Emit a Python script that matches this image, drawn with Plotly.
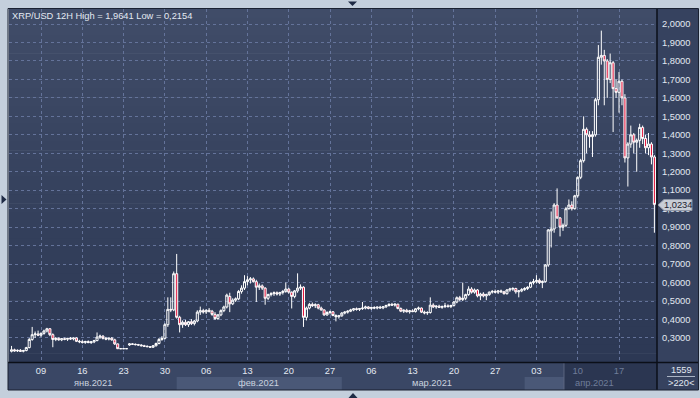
import pandas as pd
import plotly.graph_objects as go

# ---------------- data (12H bars) ----------------
bar_start = "2021-01-04 00:00"
bar_count = 219

open_ = [
    .228, .236, .230, .233, .228, .232, .248, .292, .318, .322,
    .315, .325, .338, .350, .318, .292, .298, .290, .296, .293,
    .298, .295, .300, .282, .280, .276, .281, .275, .279, .286,
    .305, .310, .298, .294, .299, .290, .268, .242, .242, .242,
    .262, .268, .266, .264, .262, .258, .255, .253, .250, .258,
    .270, .292, .298, .372, .455, .452, .648, .412, .372, .385,
    .372, .388, .378, .392, .440, .448, .441, .450, .445, .428,
    .405, .425, .448, .468, .525, .485, .505, .512, .552, .570,
    .605, .615, .620, .605, .575, .582, .570, .515, .535, .540,
    .545, .538, .546, .552, .565, .548, .525, .555, .570, .575,
    .412, .462, .482, .475, .480, .462, .452, .425, .438, .442,
    .422, .415, .420, .435, .440, .445, .452, .458, .455, .459,
    .462, .468, .460, .465, .462, .467, .463, .469, .476, .482,
    .478, .483, .460, .445, .450, .442, .447, .443, .458, .462,
    .440, .436, .438, .478, .468, .472, .466, .470, .474, .470,
    .476, .495, .518, .508, .515, .535, .565, .548, .560, .528,
    .538, .528, .535, .548, .552, .548, .555, .550, .540, .560,
    .565, .568, .550, .555, .562, .568, .575, .600, .605, .612,
    .600, .605, .695, .880, .890, 1.020, .950, .900, .910, 1.000,
    1.020, 1.000, 1.070, 1.170, 1.260, 1.430, 1.400, 1.390, 1.400, 1.590,
    1.820, 1.830, 1.800, 1.700, 1.790, 1.650, 1.630, 1.690, 1.600, 1.275,
    1.350, 1.400, 1.360, 1.370, 1.440, 1.380, 1.330, 1.350, 1.280,
]
high = [
    .257, .242, .238, .240, .236, .252, .300, .360, .335, .340,
    .330, .345, .355, .353, .325, .305, .303, .300, .302, .300,
    .305, .302, .304, .290, .288, .285, .287, .284, .290, .330,
    .318, .315, .306, .302, .305, .296, .270, .242, .242, .242,
    .272, .272, .270, .268, .266, .263, .260, .256, .262, .275,
    .300, .310, .380, .520, .520, .660, .755, .420, .395, .398,
    .392, .402, .398, .450, .470, .458, .455, .462, .452, .440,
    .430, .455, .475, .540, .545, .515, .520, .560, .585, .640,
    .635, .630, .628, .615, .595, .590, .575, .540, .548, .552,
    .552, .550, .560, .600, .572, .552, .560, .650, .590, .580,
    .470, .490, .492, .488, .485, .470, .455, .445, .448, .446,
    .428, .425, .440, .445, .450, .458, .462, .465, .462, .495,
    .475, .472, .470, .472, .470, .474, .472, .480, .488, .490,
    .488, .485, .465, .455, .458, .452, .455, .462, .470, .465,
    .448, .445, .520, .488, .478, .480, .476, .490, .482, .480,
    .500, .525, .528, .600, .540, .580, .575, .568, .565, .545,
    .548, .540, .552, .560, .562, .560, .562, .555, .565, .572,
    .575, .572, .560, .570, .575, .580, .605, .620, .640, .622,
    .612, .700, .890, .985, 1.030, 1.110, .955, .920, 1.010, 1.050,
    1.040, 1.075, 1.175, 1.270, 1.500, 1.440, 1.420, 1.420, 1.600, 1.886,
    1.9641, 1.860, 1.810, 1.840, 1.800, 1.700, 1.740, 1.700, 1.620, 1.360,
    1.450, 1.410, 1.380, 1.460, 1.450, 1.400, 1.410, 1.360, 1.290,
]
low = [
    .222, .226, .224, .225, .222, .228, .244, .285, .300, .310,
    .305, .318, .330, .310, .250, .283, .285, .283, .288, .284,
    .290, .287, .278, .272, .270, .268, .272, .268, .272, .282,
    .295, .292, .288, .287, .285, .262, .240, .242, .242, .242,
    .258, .262, .260, .258, .255, .252, .250, .246, .246, .254,
    .266, .285, .292, .360, .440, .445, .405, .330, .355, .365,
    .360, .370, .368, .385, .425, .432, .430, .438, .420, .398,
    .398, .418, .440, .460, .440, .478, .495, .505, .540, .560,
    .585, .595, .600, .495, .560, .560, .480, .505, .525, .528,
    .530, .528, .535, .545, .540, .460, .515, .545, .560, .360,
    .395, .455, .468, .462, .455, .448, .420, .420, .428, .418,
    .390, .405, .415, .428, .432, .440, .445, .448, .446, .452,
    .455, .455, .452, .456, .455, .458, .456, .462, .470, .474,
    .470, .455, .440, .435, .438, .432, .440, .438, .450, .435,
    .428, .425, .432, .462, .458, .462, .458, .462, .465, .462,
    .470, .488, .500, .500, .505, .528, .540, .540, .520, .505,
    .520, .505, .528, .540, .542, .538, .545, .535, .535, .550,
    .555, .540, .520, .548, .555, .560, .570, .590, .595, .592,
    .570, .600, .685, .790, .870, .945, .850, .880, .900, .995,
    .990, .995, 1.060, 1.160, 1.250, 1.300, 1.330, 1.280, 1.390, 1.560,
    1.780, 1.560, 1.600, 1.680, 1.415, 1.600, 1.520, 1.560, 1.250, 1.120,
    1.330, 1.300, 1.200, 1.330, 1.350, 1.300, 1.290, 1.240, .870,
]
close = [
    .236, .230, .233, .228, .232, .248, .292, .318, .322, .315,
    .325, .338, .350, .318, .292, .298, .290, .296, .293, .298,
    .295, .300, .282, .280, .276, .281, .275, .279, .286, .305,
    .310, .298, .294, .299, .290, .268, .242, .242, .242, .242,
    .268, .266, .264, .262, .258, .255, .253, .250, .258, .270,
    .292, .298, .372, .455, .452, .648, .412, .372, .385, .372,
    .388, .378, .392, .440, .448, .441, .450, .445, .428, .405,
    .425, .448, .468, .532, .485, .505, .512, .552, .570, .605,
    .615, .620, .605, .575, .582, .570, .515, .535, .540, .545,
    .538, .546, .552, .565, .548, .525, .555, .570, .575, .412,
    .462, .482, .475, .480, .462, .452, .425, .438, .442, .422,
    .415, .420, .435, .440, .445, .452, .458, .455, .459, .462,
    .468, .460, .465, .462, .467, .463, .469, .476, .482, .478,
    .483, .460, .445, .450, .442, .447, .443, .458, .462, .440,
    .436, .438, .478, .468, .472, .466, .470, .474, .470, .476,
    .495, .518, .508, .515, .535, .565, .548, .560, .528, .538,
    .528, .535, .548, .552, .548, .555, .550, .540, .560, .565,
    .568, .550, .555, .562, .568, .575, .600, .605, .612, .600,
    .605, .695, .885, .890, 1.020, .950, .900, .910, 1.000, 1.020,
    1.000, 1.070, 1.170, 1.260, 1.430, 1.400, 1.390, 1.400, 1.590, 1.820,
    1.830, 1.800, 1.700, 1.790, 1.650, 1.630, 1.690, 1.600, 1.275, 1.350,
    1.400, 1.360, 1.370, 1.440, 1.380, 1.330, 1.350, 1.280, 1.0234,
]

title_text = "XRP/USD 12H High = 1,9641 Low = 0,2154"
last_price_text = "1,0234"

y_tickvals = [0.3, 0.4, 0.5, 0.6, 0.7, 0.8, 0.9, 1.0, 1.1, 1.2,
              1.3, 1.4, 1.5, 1.6, 1.7, 1.8, 1.9, 2.0]
y_ticktext = ["0,3000", "0,4000", "0,5000", "0,6000", "0,7000", "0,8000",
              "0,9000", "1,0000", "1,1000", "1,2000", "1,3000", "1,4000",
              "1,5000", "1,6000", "1,7000", "1,8000", "1,9000", "2,0000"]

x_tickvals = ["2021-01-09", "2021-01-16", "2021-01-23", "2021-01-30",
              "2021-02-06", "2021-02-13", "2021-02-20", "2021-02-27",
              "2021-03-06", "2021-03-13", "2021-03-20", "2021-03-27",
              "2021-04-03", "2021-04-10", "2021-04-17"]
x_ticktext = ["09", "16", "23", "30", "06", "13", "20", "27",
              "06", "13", "20", "27", "03", "10", "17"]

month_labels = ["янв.2021", "фев.2021", "мар.2021", "апр.2021"]
month_centers = ["2021-01-17 19:00", "2021-02-14 20:00",
                 "2021-03-16 08:00", "2021-04-12 22:00"]

bar_info_top = "1559"
bar_info_bottom = ">220<"

# ---------------- layout geometry ----------------
W, H = 700, 398
L, R, T, B = 9, 657, 9, 362


def px(x):
    return (x - L) / (R - L)


def py(y):
    return (B - y) / (B - T)


dates = pd.date_range(bar_start, periods=bar_count, freq="12h")

FONT = "Liberation Sans, Arial, sans-serif"
TXT = "#e3e9f2"
DIM = "#6f7d99"
GRID = "#64739a"

fig = go.Figure()
fig.add_trace(go.Candlestick(
    x=dates, open=open_, high=high, low=low, close=close,
    increasing=dict(line=dict(color="#ffffff", width=1), fillcolor="rgba(0,0,0,0)"),
    decreasing=dict(line=dict(color="#ffffff", width=1), fillcolor="#e3173e"),
    whiskerwidth=0, hoverinfo="skip", showlegend=False,
))

shapes = []
# plot-area vertical gradient
n = 40
top_c = (64, 76, 104)
bot_c = (44, 56, 84)
for k in range(n):
    f = k / (n - 1)
    c = tuple(round(top_c[i] + (bot_c[i] - top_c[i]) * f) for i in range(3))
    y0 = T + (B - T) * k / n
    y1 = T + (B - T) * (k + 1) / n + 0.6
    shapes.append(dict(type="rect", xref="paper", yref="paper", layer="below",
                       x0=0, x1=1, y0=py(y1), y1=py(y0), line=dict(width=0),
                       fillcolor="rgb(%d,%d,%d)" % c))
# bottom axis panel
shapes.append(dict(type="rect", xref="paper", yref="paper", layer="below",
                   x0=px(8), x1=px(657), y0=py(390), y1=py(362),
                   line=dict(width=0), fillcolor="#3a4765"))
# right axis panel
shapes.append(dict(type="rect", xref="paper", yref="paper", layer="below",
                   x0=px(657), x1=px(698), y0=py(390), y1=py(8),
                   line=dict(width=0), fillcolor="#36425f"))
# month bands (feb, apr) in the lower half of the axis panel
shapes.append(dict(type="rect", xref="x", yref="paper", layer="below",
                   x0="2021-02-01", x1="2021-03-01", y0=py(390), y1=py(377),
                   line=dict(width=0), fillcolor="#4a5877"))
shapes.append(dict(type="rect", xref="x", yref="paper", layer="below",
                   x0="2021-04-01", x1="2021-04-23 10:34", y0=py(390), y1=py(377),
                   line=dict(width=0), fillcolor="#4a5877"))
# darker region at the right of the axis panel
shapes.append(dict(type="rect", xref="x", yref="paper", layer="below",
                   x0="2021-04-07 16:00", x1="2021-04-23 10:34", y0=py(390), y1=py(363),
                   line=dict(width=0), fillcolor="#2b3651"))
shapes.append(dict(type="line", xref="x", yref="paper", layer="below",
                   x0="2021-04-07 16:00", x1="2021-04-07 16:00", y0=py(390), y1=py(363),
                   line=dict(width=1, color="#5d6781")))
# black separators
shapes.append(dict(type="line", xref="paper", yref="paper", layer="above",
                   x0=px(8), x1=px(698), y0=py(362.5), y1=py(362.5),
                   line=dict(width=1.5, color="#0b0f18")))
shapes.append(dict(type="line", xref="paper", yref="paper", layer="above",
                   x0=px(657), x1=px(657), y0=py(390), y1=py(8),
                   line=dict(width=1.5, color="#0b0f18")))
# outer frame of chart panel
shapes.append(dict(type="rect", xref="paper", yref="paper", layer="above",
                   x0=px(8), x1=px(698.5), y0=py(390), y1=py(8.5),
                   line=dict(width=1, color="#1a2131"), fillcolor="rgba(0,0,0,0)"))
# separator line in the info box
shapes.append(dict(type="line", xref="paper", yref="paper", layer="above",
                   x0=px(667), x1=px(695), y0=py(376.5), y1=py(376.5),
                   line=dict(width=1, color="#aab4c4")))


def path(points):
    return "M " + " L ".join("%.5f,%.5f" % (px(a), py(b)) for a, b in points) + " Z"


# last price marker
shapes.append(dict(type="path", xref="paper", yref="paper", layer="above",
                   path=path([(658, 205), (664, 199.5), (692, 199.5), (692, 210.5), (664, 210.5)]),
                   line=dict(width=1, color="#8d96a6"), fillcolor="#c9ced7"))
# navigation triangles on the frame
shapes.append(dict(type="path", xref="paper", yref="paper", layer="above",
                   path=path([(348, 1.5), (357, 1.5), (352.5, 6)]),
                   line=dict(width=0), fillcolor="#1e2a44"))
shapes.append(dict(type="path", xref="paper", yref="paper", layer="above",
                   path=path([(348.5, 398), (357.5, 398), (353, 393)]),
                   line=dict(width=0), fillcolor="#1e2a44"))
shapes.append(dict(type="path", xref="paper", yref="paper", layer="above",
                   path=path([(1.5, 195), (1.5, 204), (6.5, 199.5)]),
                   line=dict(width=0), fillcolor="#1e2a44"))

annotations = [
    dict(text=title_text, xref="paper", yref="paper", x=px(10), y=py(15.5),
         xanchor="left", yanchor="middle", showarrow=False,
         font=dict(family=FONT, size=9.3, color=TXT)),
    dict(text=last_price_text, xref="paper", yref="paper", x=px(678), y=py(205),
         xanchor="center", yanchor="middle", showarrow=False,
         font=dict(family=FONT, size=9.3, color="#1d2330")),
    dict(text=bar_info_top, xref="paper", yref="paper", x=px(681), y=py(370),
         xanchor="center", yanchor="middle", showarrow=False,
         font=dict(family=FONT, size=9.3, color=TXT)),
    dict(text=bar_info_bottom, xref="paper", yref="paper", x=px(681), y=py(383),
         xanchor="center", yanchor="middle", showarrow=False,
         font=dict(family=FONT, size=9.3, color=TXT)),
]
for lab, cx in zip(month_labels, month_centers):
    col = DIM if lab.startswith("апр") else "#c9d2df"
    annotations.append(dict(text=lab, xref="x", yref="paper", x=cx, y=py(383.5),
                            xanchor="center", yanchor="middle", showarrow=False,
                            font=dict(family=FONT, size=9.3, color=col)))

ticktext_styled = [
    ('<span style="color:%s">%s</span>' % (DIM, t)) if v >= "2021-04-08" else t
    for v, t in zip(x_tickvals, x_ticktext)
]

fig.update_layout(
    width=W, height=H,
    margin=dict(l=L, r=W - R, t=T, b=H - B, pad=0),
    paper_bgcolor="#c4cfdc",
    plot_bgcolor="rgba(0,0,0,0)",
    font=dict(family=FONT, size=9.3, color=TXT),
    showlegend=False,
    boxgap=0.0,
    shapes=shapes,
    annotations=annotations,
    xaxis=dict(
        type="date",
        range=["2021-01-03 13:40", "2021-04-23 10:34"],
        rangeslider=dict(visible=False),
        tickvals=x_tickvals, ticktext=ticktext_styled,
        tickfont=dict(family=FONT, size=9.3, color=TXT),
        showgrid=True, gridcolor=GRID, gridwidth=1, griddash="3px,3px",
        showline=False, zeroline=False, ticks="",
        ticklabelstandoff=2,
        fixedrange=True,
    ),
    yaxis=dict(
        side="right",
        range=[0.170, 2.0812],
        tickvals=y_tickvals, ticktext=y_ticktext,
        tickfont=dict(family=FONT, size=9.3, color=TXT),
        showgrid=True, gridcolor=GRID, gridwidth=1, griddash="3px,3px",
        showline=False, zeroline=False, ticks="",
        ticklabelstandoff=4,
        fixedrange=True,
    ),
)

fig.write_html(
    "out.html",
    config={"displayModeBar": False},
    post_script="document.body.style.margin='0';document.body.style.overflow='hidden';",
)
